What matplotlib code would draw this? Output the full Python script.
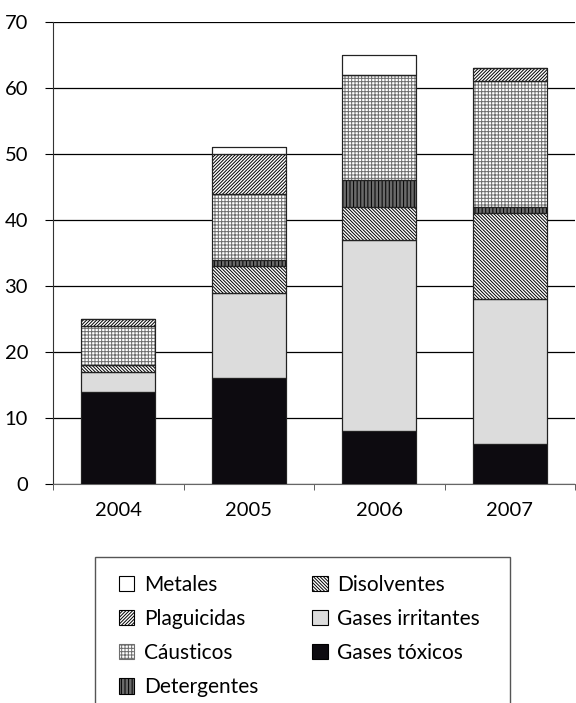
import matplotlib
matplotlib.use("Agg")
import matplotlib.pyplot as plt
from matplotlib.patches import Rectangle, Patch
import numpy as np

plt.rcParams['font.family'] = ['Lato', 'DejaVu Sans']
plt.rcParams['hatch.linewidth'] = 0.7

anios = ['2004', '2005', '2006', '2007']

# valores (de abajo arriba)
gases_toxicos = [14, 16, 8, 6]
gases_irritantes = [3, 13, 29, 22]
disolventes = [1, 4, 5, 13]
detergentes = [0, 1, 4, 1]
causticos = [6, 10, 16, 19]
plaguicidas = [1, 6, 0, 2]
metales = [0, 1, 3, 0]

series = [
    ('Gases tóxicos', gases_toxicos, '#0d0b10', None, 'black'),
    ('Gases irritantes', gases_irritantes, '#dcdcdc', None, 'black'),
    ('Disolventes', disolventes, 'white', '\\' * 10, 'black'),
    ('Detergentes', detergentes, 'white', '|' * 12, 'black'),
    ('Cáusticos', causticos, 'white', '+' * 5, '#6e6e6e'),
    ('Plaguicidas', plaguicidas, 'white', '/' * 10, 'black'),
    ('Metales', metales, 'white', None, 'black'),
]

fig = plt.figure(figsize=(5.76, 7.03), dpi=100)
ax = fig.add_axes([53/576, 1-484/703, 522/576, 462/703])

x = np.arange(len(anios))
base = np.zeros(len(anios))
handles = {}
for nombre, vals, color, hatch, ec in series:
    vals = np.array(vals, dtype=float)
    ax.bar(x, vals, 0.565, bottom=base, color=color, hatch=hatch,
           edgecolor=ec, linewidth=0.8, zorder=3)
    # contorno negro de cada tramo
    ax.bar(x, vals, 0.565, bottom=base, fill=False, edgecolor='#222222',
           linewidth=0.8, zorder=4)
    handles[nombre] = Patch(facecolor=color, hatch=hatch, edgecolor=ec, linewidth=0.8)
    base += vals

ax.set_xlim(-0.5, 3.5)
ax.set_ylim(0, 70)
ax.set_yticks(range(0, 71, 10))
ax.yaxis.grid(True, color='black', linewidth=0.9, zorder=0)
ax.set_axisbelow(True)
ax.set_xticks(x)
ax.set_xticklabels(anios, fontsize=14.5)
ax.set_xticks(np.arange(-0.5, 4, 1), minor=True)
ax.tick_params(axis='x', which='major', length=0, pad=13)
ax.tick_params(axis='x', which='minor', length=4, color='#444444')
ax.tick_params(axis='y', length=6, labelsize=14.5, pad=12)
for s in ['top', 'right']:
    ax.spines[s].set_visible(False)
ax.spines['left'].set_color('#333333')
ax.spines['bottom'].set_color('#666666')

orden = ['Metales', 'Plaguicidas', 'Cáusticos', 'Detergentes',
         'Disolventes', 'Gases irritantes', 'Gases tóxicos']
fig.legend([handles[n] for n in orden], orden, ncol=2, frameon=False,
           loc='upper left', bbox_to_anchor=(100/576, 1-556/703),
           fontsize=15, handlelength=0.75, handleheight=0.75,
           handletextpad=0.45, columnspacing=2.6, labelspacing=0.68)

fig.patches.append(Rectangle((95/576, -0.01), 415/576, 0.01+146/703,
                             transform=fig.transFigure, fill=False,
                             edgecolor='#555555', linewidth=1.0))

fig.savefig('out.png', dpi=100)
